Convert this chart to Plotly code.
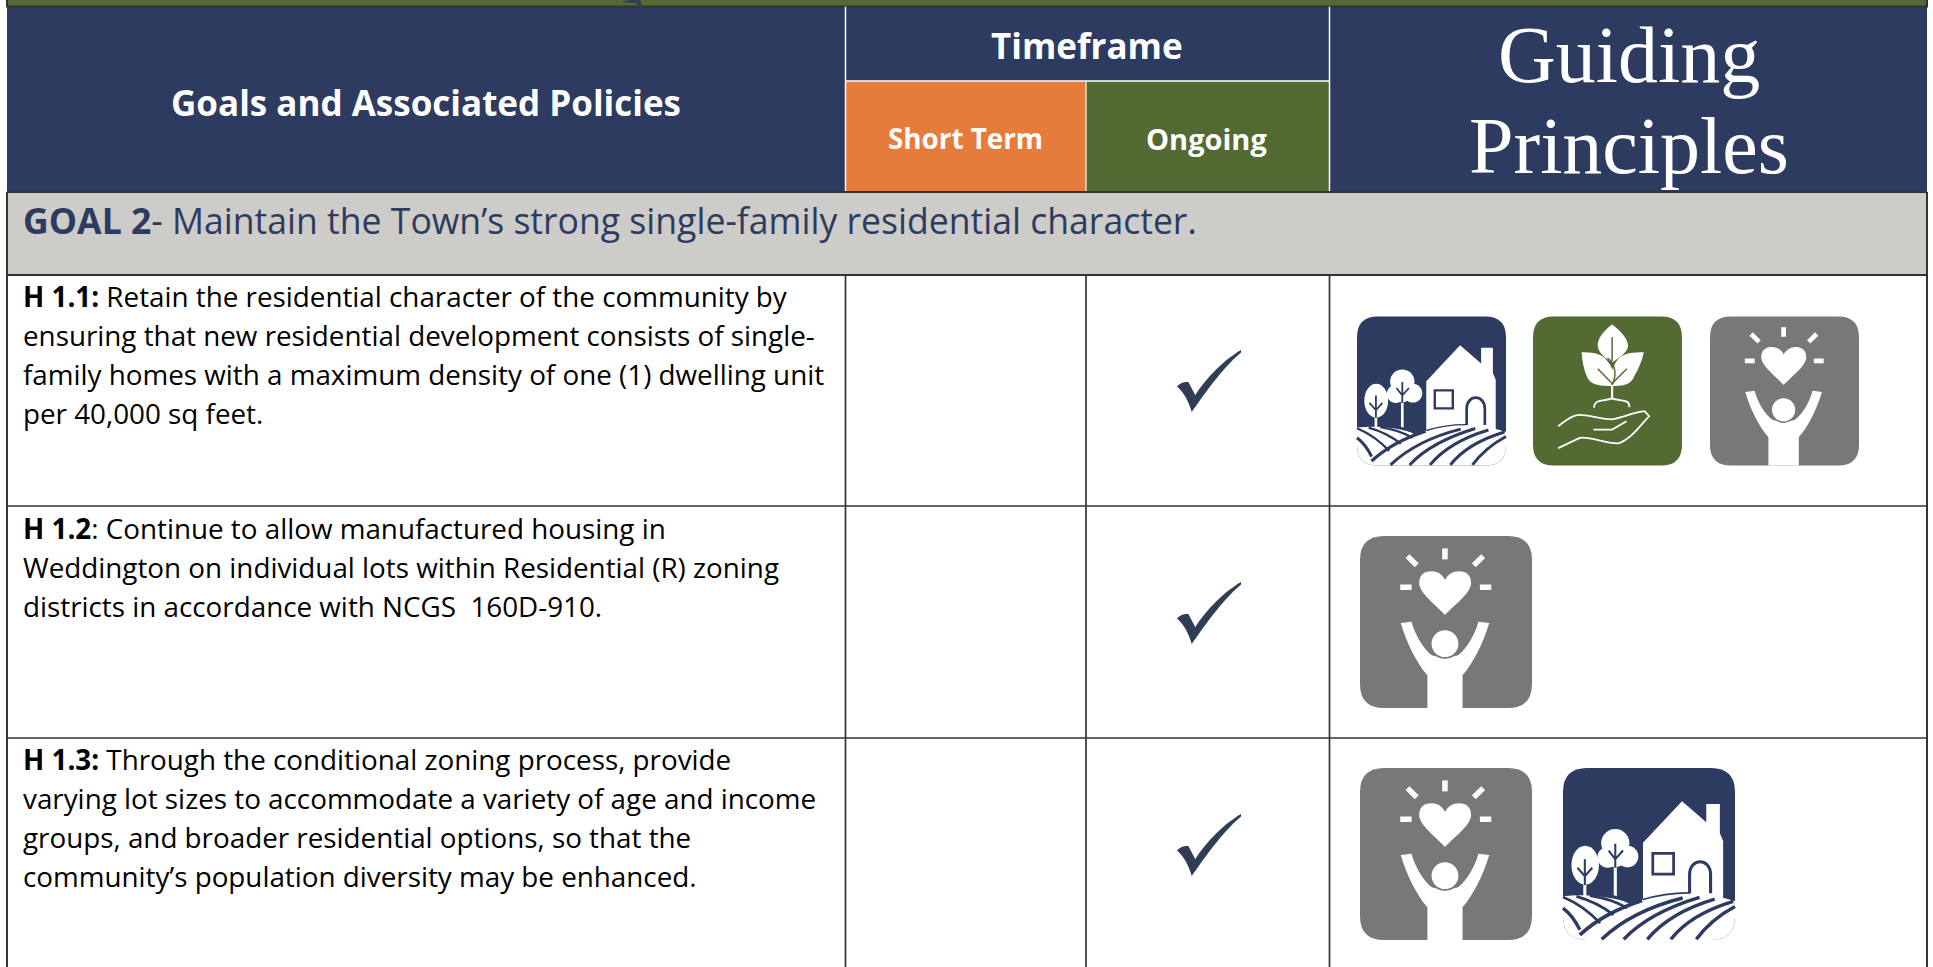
import re
import plotly.graph_objects as go

# ---------- content ----------
header_goals = "Goals and Associated Policies"
header_time = "Timeframe"
header_short = "Short Term"
header_ongoing = "Ongoing"
header_guiding = ["Guiding", "Principles"]
goal_bold = "GOAL 2"
goal_rest = "- Maintain the Town’s strong single-family residential character."

policy_ids = ["H 1.1:", "H 1.2", "H 1.3:"]
policy_lines = [
    [" Retain the residential character of the community by",
     "ensuring that new residential development consists of single-",
     "family homes with a maximum density of one (1) dwelling unit",
     "per 40,000 sq feet."],
    [": Continue to allow manufactured housing in",
     "Weddington on individual lots within Residential (R) zoning",
     "districts in accordance with NCGS  160D-910."],
    [" Through the conditional zoning process, provide",
     "varying lot sizes to accommodate a variety of age and income",
     "groups, and broader residential options, so that the",
     "community’s population diversity may be enhanced."],
]
short_term = [False, False, False]
ongoing = [True, True, True]
principles = [["rural", "nature", "people"], ["people"], ["people", "rural"]]

# ---------- layout constants ----------
W, H = 1933, 967
NAVY, ORANGE, GREEN, GREY, ICON_GREY = "#2D3B60", "#E57C3B", "#536A33", "#CDCCC8", "#787878"
INK, RULE, CHECK = "#000000", "#333333", "#2F3E54"
FONT, SERIF = "Open Sans", "Liberation Serif"
XL, X1, X2, X3, XR = 7, 845.5, 1086, 1329.5, 1927
Y0, YT, YH, YG, Y_ROWS = 6.6, 81, 192, 275, [506, 738, 967]
LINE_Y = [296, 528, 759]
LINE_STEP = 39
ICON_SPEC = [dict(xs=[1357, 1533, 1710], y=316.5, s=149),
             dict(xs=[1360], y=536, s=172),
             dict(xs=[1360, 1563], y=768, s=172)]
CHECK_X, CHECK_Y = [1177, 1177, 1177], [350, 582, 814]

shapes, notes = [], []


def rect(x0, y0, x1, y1, fill):
    shapes.append(dict(type="rect", x0=x0, y0=y0, x1=x1, y1=y1,
                       fillcolor=fill, line=dict(width=0), layer="below"))


def rule(x0, y0, x1, y1, color=RULE, w=1.7):
    shapes.append(dict(type="line", x0=x0, y0=y0, x1=x1, y1=y1, line=dict(color=color, width=w)))


def text(x, y, s, size, color, anchor="center", family=FONT):
    notes.append(dict(x=x, y=y, text=s, showarrow=False, xanchor=anchor, yanchor="middle",
                      borderpad=0, font=dict(family=family, size=size, color=color)))


def place(path, x, y, sx, sy):
    out, is_x = [], True
    for tok in re.findall(r"[A-Za-z]|-?[\d.]+", path):
        if tok.isalpha():
            out.append(tok)
            is_x = True
        else:
            v = float(tok)
            out.append(f"{x + v * sx / 100:.2f}" if is_x else f"{y + v * sy / 100:.2f}")
            is_x = not is_x
    return " ".join(out)


def circle(cx, cy, rx, ry=None):
    ry = ry or rx
    k = 0.5523
    return (f"M {cx-rx} {cy} C {cx-rx} {cy-k*ry} {cx-k*rx} {cy-ry} {cx} {cy-ry} "
            f"C {cx+k*rx} {cy-ry} {cx+rx} {cy-k*ry} {cx+rx} {cy} "
            f"C {cx+rx} {cy+k*ry} {cx+k*rx} {cy+ry} {cx} {cy+ry} "
            f"C {cx-k*rx} {cy+ry} {cx-rx} {cy+k*ry} {cx-rx} {cy} Z")


ROUND = "M 14 0 L 86 0 Q 100 0 100 14 L 100 86 Q 100 100 86 100 L 14 100 Q 0 100 0 86 L 0 14 Q 0 0 14 0 Z"

# each glyph step: path, fill or None, stroke or None, stroke width as % of icon size
ICONS = {
    "rural": [
        (ROUND, NAVY, None, 0),
        ("M 46.5 43.4 L 69.2 19.3 L 83.3 31.6 L 83.3 20.9 L 91.2 20.9 L 91.2 37.9 L 93.1 42.4 L 93.1 76 L 46.5 78 Z", "white", None, 0),
        ("M 51.4 48.8 L 65.1 48.8 L 65.1 62.5 L 51.4 62.5 Z M 53 50.4 L 53 60.9 L 63.5 60.9 L 63.5 50.4 Z", NAVY, None, 0),
        ("M 73.6 72.8 L 73.6 62 C 73.6 52 85.8 52 85.8 62 L 85.8 72.8", None, NAVY, 1.8),
        ("M 0 74.5 C 15 73 28 75 39.2 78.5 L 46.5 76.5 C 60 72 80 71 100 77.5 L 100 86 Q 100 100 86 100 L 14 100 Q 0 100 0 86 Z", "white", None, 0),
        ("M 46.5 76.5 C 58 73 66 72.5 74 72.6", None, NAVY, 0.9),
        (circle(12.9, 56.5, 8, 11.3), "white", None, 0),
        (circle(30.4, 43.7, 8.2), "white", None, 0),
        (circle(26, 52, 6), "white", None, 0),
        (circle(37.5, 51.5, 6.3), "white", None, 0),
        (circle(30.4, 50, 7.5), "white", None, 0),
        ("M 12.7 67 L 12.7 76", None, "white", 1.8),
        ("M 30.4 57 L 30.4 75", None, "white", 1.8),
        ("M 12.7 53 L 12.7 68 M 8.4 58 L 12.7 62.9 L 17 58", None, NAVY, 1.2),
        ("M 30.4 44 L 30.4 58 M 26.5 48 L 30.4 53 L 34.9 48", None, NAVY, 1.2),
        ("M 9.8 97 Q 24 84 46 77", None, NAVY, 2.2),
        ("M 22.5 99.6 Q 40 83 69.6 75.6", None, NAVY, 2.0),
        ("M 35.3 99.6 Q 50 84 79.4 75.2", None, NAVY, 2.0),
        ("M 49 99.6 Q 62 84 88.2 76.2", None, NAVY, 2.0),
        ("M 62.7 99.6 Q 74 85 99 77.5", None, NAVY, 2.0),
        ("M 77.5 99.6 Q 86 88 100 80.5", None, NAVY, 2.0),
        ("M 0 81.4 Q 6 86 9.8 94.1", None, NAVY, 2.0),
        ("M 0 75 Q 12 80 21.6 90.2", None, NAVY, 1.6),
        ("M 7.8 74.6 Q 20 78 29.4 85.4", None, NAVY, 1.6),
        ("M 15.7 74.2 Q 28 76 37.3 81.4", None, NAVY, 1.6),
        ("M 24.5 73.6 Q 33 75 39.2 78.5", None, NAVY, 1.4),
    ],
    "nature": [
        (ROUND, GREEN, None, 0),
        ("M 53.1 5.4 C 47 10 43 15 43.5 20 C 44 25 49 28 53.1 31 C 57 28 63 25 63.8 20 C 64 15 59 10 53.1 5.4 Z", "white", None, 0),
        ("M 32.6 24 C 38 24 46 24 50 30 C 55 36 55 42 53.1 46.6 C 45 47 38 46 36 40 C 34 35 33 30 32.6 24 Z", "white", None, 0),
        ("M 74.4 24 C 68 24 60 24 56 30 C 52 36 52 42 53.1 46.6 C 60 47 66 46 68 40 C 71 35 73 30 74.4 24 Z", "white", None, 0),
        ("M 53.1 14 L 53.1 30", None, GREEN, 1.0),
        ("M 50 28 C 56 32 56 40 53.1 46", None, GREEN, 1.0),
        ("M 43.5 35 L 53.1 45 L 63 35", None, GREEN, 1.0),
        ("M 53.1 46 L 53.1 55.6", None, "white", 1.4),
        ("M 41 61.3 C 41 55 48 57 53 55 C 58 57 65 55 64.7 60.8", None, "white", 1.2),
        ("M 16.9 73.6 C 22 70 26 66 31 66 C 38 66 46 69 53 69 C 60 68 68 64 74.9 63.5 L 78 66.9 "
         "C 72 73 66 82 58 85 C 50 86 38 80 31.4 81.5 L 16.9 88.3", None, "white", 1.2),
        ("M 40.6 75.9 L 53.1 75.9 L 62.8 70.3", None, "white", 1.2),
    ],
    "people": [
        (ROUND, ICON_GREY, None, 0),
        ("M 49.4 46 C 44 40 34.4 33 34.4 27.5 C 34.4 22 38 20.5 41.5 20.5 C 45 20.5 48 22.5 49.4 25.5 "
         "C 51 22.5 54 20.5 57.5 20.5 C 61 20.5 64.6 22 64.6 27.5 C 64.6 33 55 40 49.4 46 Z", "white", None, 0),
        ("M 49.4 7.2 L 49.4 13.6", None, "white", 3.2),
        ("M 27.6 11.7 L 33 17", None, "white", 3.2),
        ("M 71.6 11.7 L 66.2 17", None, "white", 3.2),
        ("M 23.4 29.8 L 30 29.8", None, "white", 3.2),
        ("M 69.7 29.8 L 76.3 29.8", None, "white", 3.2),
        ("M 23.7 50.6 L 30 49.8 C 31.5 56 36 65 42 69.5 L 49.4 71 L 56.8 69.5 C 62.8 65 67.3 56 68.8 49.8 L 75.1 50.6 "
         "C 71.8 62 65.8 74 59.6 81 L 59.6 100 L 39.2 100 L 39.2 81 C 33 74 27 62 23.7 50.6 Z", "white", None, 0),
        (circle(49.4, 62.6, 8.8), ICON_GREY, None, 0),
        (circle(49.4, 62.6, 7.8), "white", None, 0),
    ],
}
CHECK_GLYPH = ("M 0 59 C 5 53 12 51 18 52 L 28.6 73 C 45 45 75 15 100 0 L 100 4 "
               "C 70 30 40 75 23 100 C 18 82 10 68 0 59 Z")

# ---------- table ----------
rect(XL, Y0, XR, YH, NAVY)
rect(XL - 1, 0, XR + 1, Y0, GREEN)
rect(X1, YT, X2, YH, ORANGE)
rect(X2, YT, X3, YH, GREEN)
rect(XL, YH, XR, YG, GREY)

rule(XL - 1, Y0, XR + 1, Y0, RULE, 2)
rule(XL, 0, XL, Y0, RULE, 2)
rule(XR, 0, XR, Y0, RULE, 2)
rule(X1, Y0, X1, YH, "white", 1.5)
rule(X3, Y0, X3, YH, "white", 1.5)
rule(X2, YT, X2, YH, "white", 1.2)
rule(X1, YT, X3, YT, "white", 1.5)
rule(XL, YH, XR, YH, RULE, 2)
rule(XL, YG, XR, YG, RULE, 2)
for y in Y_ROWS[:-1]:
    rule(XL, y, XR, y, RULE)
rule(XL, YH, XL, H, RULE, 2)
rule(XR, YH, XR, H, RULE, 2)
for x in (X1, X2, X3):
    rule(x, YG, x, H, RULE)

# stray tick of a check mark from the page above
shapes.append(dict(type="path", path="M 621 2 L 630 0 L 640 0 L 643 9 L 640 9 L 636 3 Z",
                   fillcolor=CHECK, line=dict(width=0)))

text((XL + X1) / 2, 102, f"<b>{header_goals}</b>", 35, "white")
text((X1 + X3) / 2 - 1, 45.5, f"<b>{header_time}</b>", 35, "white")
text((X1 + X2) / 2, 138, f"<b>{header_short}</b>", 27.8, "white")
text((X2 + X3) / 2 - 1, 138, f"<b>{header_ongoing}</b>", 29, "white")
text(1629, 55, header_guiding[0], 80, "white", family=SERIF)
text(1629, 146, header_guiding[1], 80, "white", family=SERIF)
text(22, 220, f"<b>{goal_bold}</b>{goal_rest}", 35.6, NAVY, "left")

for pid, lines, y0 in zip(policy_ids, policy_lines, LINE_Y):
    for i, line in enumerate(lines):
        s = f"<b>{pid}</b>{line}" if i == 0 else line
        text(22, y0 + i * LINE_STEP, s, 27.8, INK, "left")

for i, (st, on) in enumerate(zip(short_term, ongoing)):
    if on or st:
        dx = 0 if on else X1 - X2
        shapes.append(dict(type="path", path=place(CHECK_GLYPH, CHECK_X[i] + dx, CHECK_Y[i], 64, 62),
                           fillcolor=CHECK, line=dict(width=0)))

for names, spec in zip(principles, ICON_SPEC):
    for name, x in zip(names, spec["xs"]):
        s = spec["s"]
        for path, fill, stroke, sw in ICONS[name]:
            shape = dict(type="path", path=place(path, x, spec["y"], s, s))
            if fill:
                shape["fillcolor"] = fill
            shape["line"] = dict(color=stroke, width=sw * s / 100) if stroke else dict(width=0)
            shapes.append(shape)

fig = go.Figure()
fig.update_layout(
    width=W, height=H, margin=dict(l=0, r=0, t=0, b=0), showlegend=False,
    paper_bgcolor="white", plot_bgcolor="white", shapes=shapes, annotations=notes,
    xaxis=dict(range=[0, W], visible=False, fixedrange=True),
    yaxis=dict(range=[H, 0], visible=False, fixedrange=True),
)
fig.write_html("out.html", config=dict(displayModeBar=False),
               post_script="document.body.style.margin='0';document.documentElement.style.overflow='hidden';")
